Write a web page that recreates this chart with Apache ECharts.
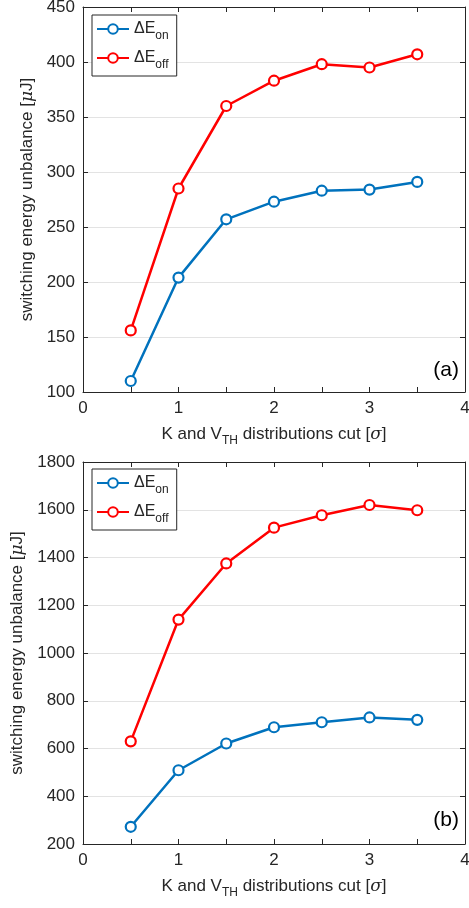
<!DOCTYPE html>
<html lang="en">
<head>
  <meta charset="UTF-8">
  <title>switching energy unbalance</title>
  <script src="https://cdn.jsdelivr.net/npm/echarts@6/dist/echarts.min.js"></script>
  <style>
    body { margin: 0; background: #fff; }
    #chart { width: 469px; height: 908px; }
  </style>
</head>
<body>
  <div id="chart"></div>
  <script>
    // data
    const cutSigma = [0.5, 1, 1.5, 2, 2.5, 3, 3.5];
    const onA = [110, 204, 257, 273, 283, 284, 291];
    const offA = [156, 285, 360, 383, 398, 395, 407];
    const onB = [272, 509, 621, 689, 710, 730, 720];
    const offB = [630, 1140, 1375, 1525, 1577, 1620, 1598];
    const yTicksA = [100, 450, 50];   // min, max, step
    const yTicksB = [200, 1800, 200];

    const font = 'Liberation Sans, Arial, sans-serif';
    const axisColor = '#262626';
    const blue = '#0072BD';
    const red = '#FF0000';

    const chart = echarts.init(document.getElementById('chart'));

    const grids = [
      { left: 83, top: 7, width: 382, height: 385, outerBoundsMode: 'none', containLabel: false },
      { left: 83, top: 462, width: 382, height: 382, outerBoundsMode: 'none', containLabel: false }
    ];

    function xAxes(gi) {
      const base = {
        type: 'value', gridIndex: gi, min: 0, max: 4, interval: 0.5,
        axisLine: { show: true, onZero: false, lineStyle: { color: axisColor, width: 1 } },
        axisTick: { show: true, inside: true, length: 5, lineStyle: { color: axisColor } },
        splitLine: { show: false }
      };
      return [
        Object.assign({}, base, {
          position: 'bottom',
          axisLabel: {
            color: axisColor, fontSize: 17, fontFamily: font, margin: 8,
            formatter: v => Number.isInteger(v) ? String(v) : ''
          },
          name: '{t|K and V}{s|TH}{t| distributions cut [}{i|σ}{t|]}',
          nameLocation: 'middle', nameGap: 34,
          nameTextStyle: {
            color: axisColor, fontFamily: font,
            rich: {
              t: { fontSize: 17, fontFamily: font, color: axisColor, lineHeight: 17, verticalAlign: 'top' },
              s: { fontSize: 12, fontFamily: font, color: axisColor, lineHeight: 12, padding: [9, 0, 0, 0], verticalAlign: 'top' },
              i: { fontSize: 17, fontFamily: 'DejaVu Serif, serif', fontStyle: 'italic', color: axisColor, lineHeight: 17, verticalAlign: 'top' }
            }
          }
        }),
        Object.assign({}, base, { position: 'top', axisLabel: { show: false } })
      ];
    }

    function yAxes(gi, ticks) {
      const base = {
        type: 'value', gridIndex: gi, min: ticks[0], max: ticks[1], interval: ticks[2],
        axisLine: { show: true, onZero: false, lineStyle: { color: axisColor, width: 1 } },
        axisTick: { show: true, inside: true, length: 5, lineStyle: { color: axisColor } }
      };
      return [
        Object.assign({}, base, {
          position: 'left',
          axisLabel: { color: axisColor, fontSize: 17, fontFamily: font, margin: 8, formatter: v => String(v) },
          splitLine: { show: true, lineStyle: { color: '#e3e3e3', width: 1 } },
          name: '{t|switching energy unbalance [}{i|μ}{t|J]}',
          nameLocation: 'middle', nameGap: 46, nameRotate: 90,
          nameTextStyle: {
            color: axisColor, fontFamily: font,
            rich: {
              t: { fontSize: 17, fontFamily: font, color: axisColor },
              i: { fontSize: 17, fontFamily: 'DejaVu Serif, serif', fontStyle: 'italic', color: axisColor }
            }
          }
        }),
        Object.assign({}, base, { position: 'right', axisLabel: { show: false }, splitLine: { show: false } })
      ];
    }

    function lineSeries(name, color, gi, values) {
      return {
        name: name, type: 'line',
        xAxisIndex: gi * 2, yAxisIndex: gi * 2,
        data: cutSigma.map((x, i) => [x, values[i]]),
        symbol: 'circle', symbolSize: 10, showSymbol: true,
        lineStyle: { color: color, width: 2.5 },
        itemStyle: { color: '#fff', borderColor: color, borderWidth: 2.2 },
        emphasis: { disabled: true },
        animation: false
      };
    }

    function legend(top) {
      return {
        orient: 'vertical', left: 92, top: top,
        data: ['on', 'off'],
        itemWidth: 32, itemHeight: 12, itemGap: 8,
        padding: [6, 8, 5, 4],
        borderColor: axisColor, borderWidth: 1, backgroundColor: '#fff',
        selectedMode: false,
        formatter: n => '{m|ΔE}{s|' + n + '}',
        textStyle: {
          rich: {
            m: { fontSize: 16, fontFamily: font, color: axisColor, lineHeight: 16, verticalAlign: 'top' },
            s: { fontSize: 12, fontFamily: font, color: axisColor, lineHeight: 12, padding: [9, 0, 0, 0], verticalAlign: 'top' }
          }
        }
      };
    }

    const seriesA = [lineSeries('on', blue, 0, onA), lineSeries('off', red, 0, offA)];
    const seriesB = [lineSeries('on', blue, 1, onB), lineSeries('off', red, 1, offB)];

    chart.setOption({
      animation: false,
      grid: grids,
      xAxis: xAxes(0).concat(xAxes(1)),
      yAxis: yAxes(0, yTicksA).concat(yAxes(1, yTicksB)),
      legend: [legend(15), legend(469)],
      graphic: [
        { type: 'text', right: 10, top: 360, style: { text: '(a)', fontSize: 21, fontFamily: font, fill: '#000' } },
        { type: 'text', right: 10, top: 810, style: { text: '(b)', fontSize: 21, fontFamily: font, fill: '#000' } }
      ],
      series: seriesA.concat(seriesB)
    });
  </script>
</body>
</html>
